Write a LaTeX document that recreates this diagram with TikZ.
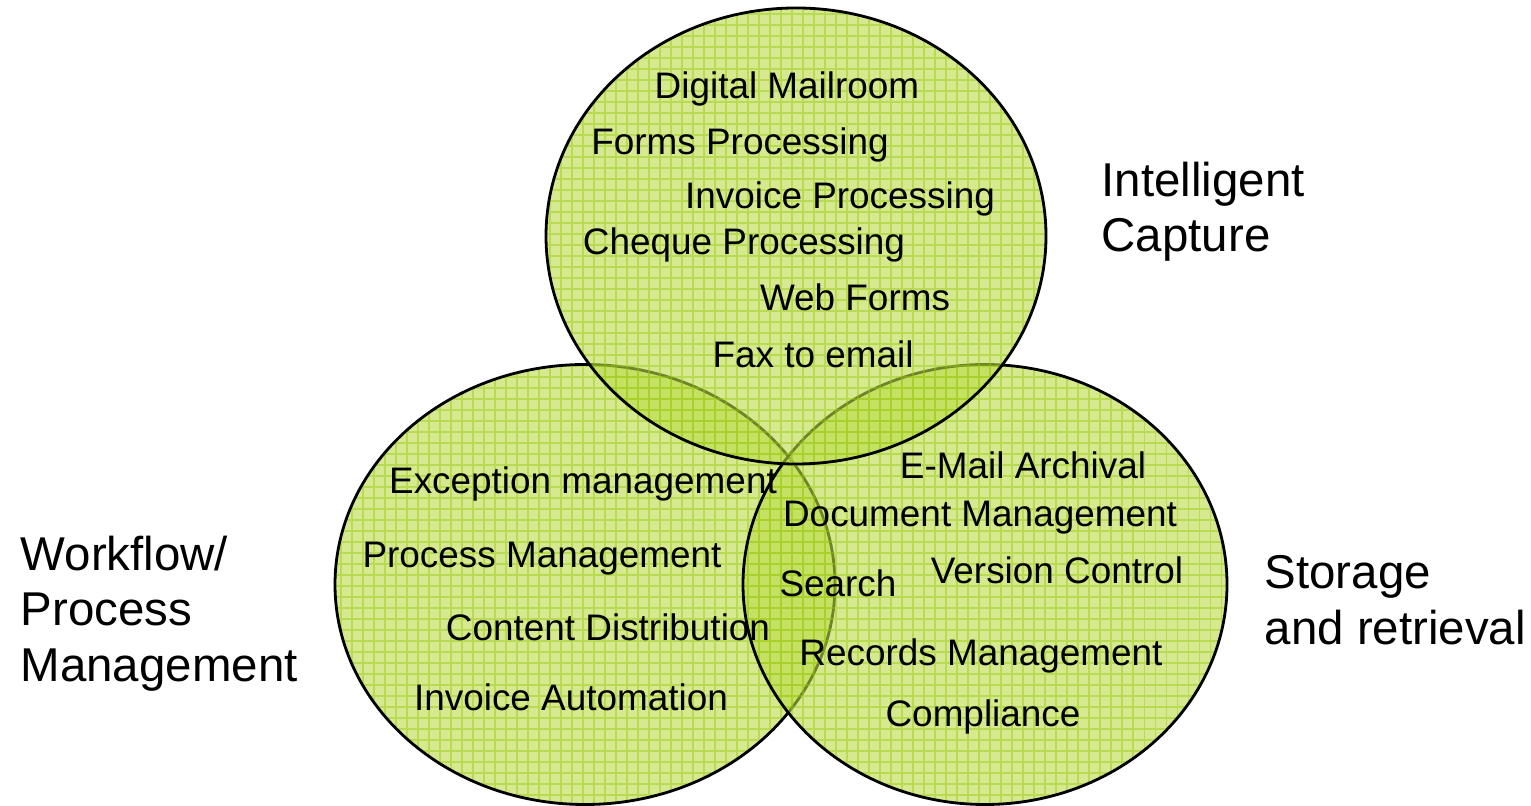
\documentclass[tikz,border=0pt]{standalone}
\usepackage{fontspec}
\setmainfont{Liberation Sans}
\usepackage{tikz}
\usetikzlibrary{positioning}

\definecolor{venngreen}{RGB}{186,219,70}
\definecolor{gridgreen}{RGB}{150,200,10}

\tikzset{
	item/.style={font=\fontsize{10.5}{12.6}\selectfont, inner sep=0pt, anchor=base},
	group/.style={font=\fontsize{13.5}{15.9}\selectfont, inner sep=0pt, anchor=north west, align=left},
	venn/.style={fill=venngreen, fill opacity=0.6},
	vennline/.style={draw=black, line width=0.8pt}
}

\begin{document}
\begin{tikzpicture}
	\useasboundingbox (0,0) rectangle (15.31,8.06);

	% the three sets: workflow, storage, capture
	\foreach \cx/\cy/\rx/\ry in {5.85/2.215/2.50/2.20, 9.85/2.215/2.42/2.20, 7.96/5.70/2.50/2.28}
	{
		\fill[venn] (\cx,\cy) ellipse [x radius=\rx, y radius=\ry];
		\begin{scope}
			\clip (\cx,\cy) ellipse [x radius=\rx, y radius=\ry];
			\draw[gridgreen, line width=0.3pt, opacity=0.45, step=0.11] (0,0) grid (15.31,8.06);
		\end{scope}
		\draw[vennline] (\cx,\cy) ellipse [x radius=\rx, y radius=\ry];
	}

	% capture
	\node[item] (mailroom) at (7.87,7.07) {Digital Mailroom};
	\node[item] (forms) at (7.40,6.51) {Forms Processing};
	\node[item] (invoice) at (8.40,5.97) {Invoice Processing};
	\node[item] (cheque) at (7.44,5.51) {Cheque Processing};
	\node[item] (webforms) at (8.55,4.95) {Web Forms};
	\node[item] (fax) at (8.13,4.38) {Fax to email};

	% workflow
	\node[item] (exception) at (5.83,3.12) {Exception management};
	\node[item] (process) at (5.42,2.38) {Process Management};
	\node[item] (distribution) at (6.08,1.65) {Content Distribution};
	\node[item] (automation) at (5.71,0.95) {Invoice Automation};

	% storage
	\node[item] (archival) at (10.23,3.27) {E-Mail Archival};
	\node[item] (document) at (9.80,2.79) {Document Management};
	\node[item] (search) at (8.38,2.09) {Search};
	\node[item] (version) at (10.57,2.22) {Version Control};
	\node[item] (records) at (9.81,1.40) {Records Management};
	\node[item] (compliance) at (9.83,0.79) {Compliance};

	% set names
	\node[group] (capture) at (11.01,6.45) {Intelligent\\Capture};
	\node[group] (workflow) at (0.20,2.71) {Workflow/\\Process\\Management};
	\node[group] (storage) at (12.64,2.51) {Storage\\and retrieval};
\end{tikzpicture}
\end{document}
